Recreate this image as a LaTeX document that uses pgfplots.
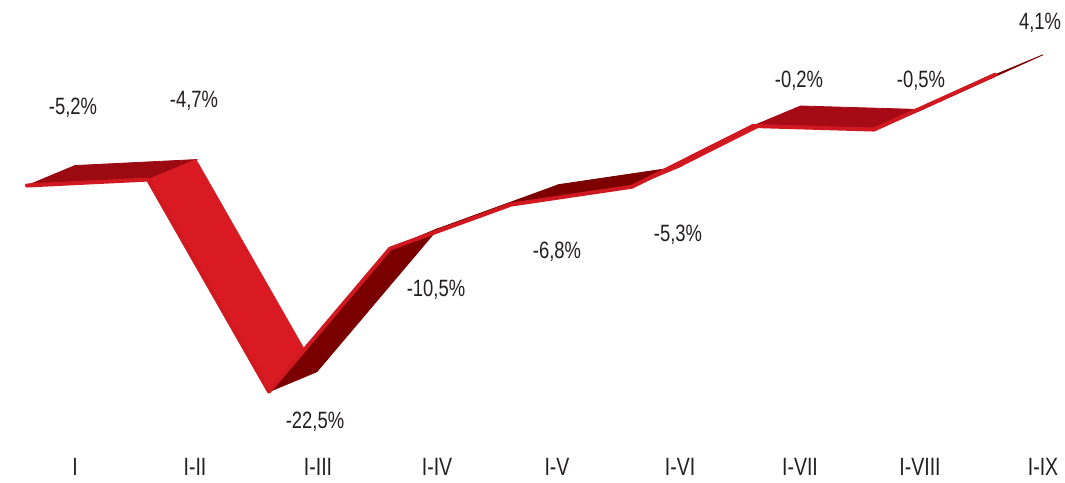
\documentclass[border=0pt]{standalone}
\usepackage{fontspec}
\setmainfont{Liberation Sans}[FakeStretch=0.78]
\usepackage{pgfplots}
\pgfplotsset{compat=1.18}
\usepackage{pgfplotstable}

\definecolor{txt}{HTML}{231F20}
\definecolor{frontred}{HTML}{CF1820}

% ribbon: front edge (d=0) and back edge (d=1); c = facet colour index of the segment starting here
\pgfplotstableread{
x d v c
0 0 -5.2 0
1 0 -4.7 1
2 0 -22.5 2
3 0 -10.5 3
4 0 -6.8 4
5 0 -5.3 5
6 0 -0.2 6
7 0 -0.5 7
8 0 4.1 7
0 1 -5.2 0
1 1 -4.7 1
2 1 -22.5 2
3 1 -10.5 3
4 1 -6.8 4
5 1 -5.3 5
6 1 -0.2 6
7 1 -0.5 7
8 1 4.1 7
}\ribbon

\begin{document}
\begin{tikzpicture}
\begin{axis}[
  x={(60.5pt,0pt)}, y={(24pt,10pt)}, z={(0pt,5.955pt)},
  hide axis, clip=false,
  xmin=0, xmax=8, ymin=0, ymax=1, zmin=-22.5, zmax=4.1,
  colormap={ribbon}{rgb255=(155,10,16) rgb255=(218,26,34) rgb255=(122,0,0) rgb255=(122,0,0) rgb255=(125,0,0) rgb255=(210,26,34) rgb255=(166,10,20) rgb255=(122,0,0)},
  point meta min=0, point meta max=7,
]
\addplot3[surf, shader=flat corner, z buffer=none, mesh/rows=2, mesh/cols=9,
  point meta=\thisrow{c}] table[x=x, y=d, z=v] {\ribbon};
\addplot3[draw=frontred, line width=2pt, line join=round, line cap=round, no marks,
  restrict y to domain=-0.1:0.1] table[x=x, y=d, z=v] {\ribbon};
\coordinate (O) at (axis cs:0,0,0);
\end{axis}

\begin{scope}[every node/.style={text=txt, font=\fontsize{11.8}{13}\selectfont}]
\node at ([shift={(23pt,7.8pt)}]O) {-5,2\%};
\node at ([shift={(83.5pt,11.3pt)}]O) {-4,7\%};
\node at ([shift={(144pt,-149.2pt)}]O) {-22,5\%};
\node at ([shift={(204.5pt,-83.2pt)}]O) {-10,5\%};
\node at ([shift={(265pt,-64.2pt)}]O) {-6,8\%};
\node at ([shift={(325.5pt,-55.7pt)}]O) {-5,3\%};
\node at ([shift={(386pt,21.3pt)}]O) {-0,2\%};
\node at ([shift={(447pt,21.3pt)}]O) {-0,5\%};
\node at ([shift={(506.5pt,50.3pt)}]O) {4,1\%};
\end{scope}

\begin{scope}[every node/.style={text=txt, font=\fontsize{12.5}{14}\selectfont}]
\node at ([shift={(24pt,-171.7pt)}]O) {I};
\node at ([shift={(84pt,-171.7pt)}]O) {I-II};
\node at ([shift={(145.5pt,-171.7pt)}]O) {I-III};
\node at ([shift={(205pt,-171.7pt)}]O) {I-IV};
\node at ([shift={(265pt,-171.7pt)}]O) {I-V};
\node at ([shift={(326.5pt,-171.7pt)}]O) {I-VI};
\node at ([shift={(386.5pt,-171.7pt)}]O) {I-VII};
\node at ([shift={(446.5pt,-171.7pt)}]O) {I-VIII};
\node at ([shift={(508pt,-171.7pt)}]O) {I-IX};
\end{scope}

\pgfresetboundingbox
\path ([shift={(-13.5pt,-179.2pt)}]O) rectangle ([shift={(519pt,61.8pt)}]O);
\end{tikzpicture}
\end{document}
